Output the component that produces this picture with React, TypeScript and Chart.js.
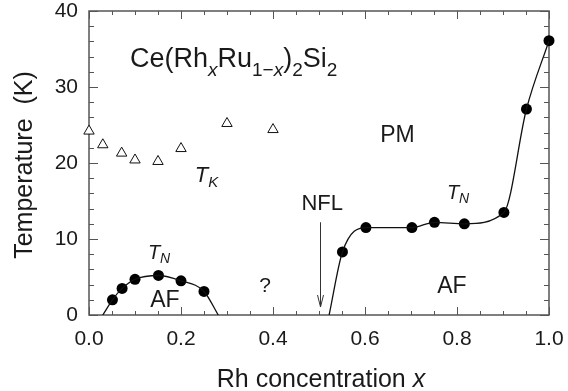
import React, { useEffect, useRef } from 'react';
import { Chart, registerables } from 'chart.js';

Chart.register(...registerables);

// ---- data ----
const TK_X = [0.0, 0.03, 0.071, 0.1, 0.15, 0.2, 0.3, 0.4];
const TK_Y = [24.2, 22.4, 21.3, 20.4, 20.2, 21.9, 25.2, 24.4];

const TN_LOW_X = [0.051, 0.072, 0.1, 0.151, 0.2, 0.25];
const TN_LOW_Y = [2.0, 3.5, 4.7, 5.2, 4.5, 3.1];

const TN_HIGH_X = [0.551, 0.602, 0.702, 0.751, 0.816, 0.902, 0.951, 1.0];
const TN_HIGH_Y = [8.3, 11.5, 11.5, 12.2, 12.0, 13.5, 27.1, 36.1];

const DOME_X = [0.03, 0.051, 0.072, 0.1, 0.151, 0.2, 0.25, 0.281];
const DOME_Y = [0, 2.0, 3.5, 4.7, 5.2, 4.5, 3.1, 0];

const RISE_X = [0.522, 0.551, 0.602, 0.702, 0.751, 0.816, 0.902, 0.951, 1.0];
const RISE_Y = [0, 8.3, 11.5, 11.5, 12.2, 12.0, 13.5, 27.1, 36.1];

const X_TICKS = [0, 0.2, 0.4, 0.6, 0.8, 1.0];
const Y_TICKS = [0, 10, 20, 30, 40];

const X_TITLE = 'Rh concentration ';
const X_TITLE_VAR = 'x';
const Y_TITLE = 'Temperature  (K)';

const ARROW_X = 0.502;
const ARROW_FROM = 12.2;
const ARROW_TO = 1.05;

type Seg = { t: string; sub?: boolean; it?: boolean };
type Label = { segs: Seg[]; x: number; y: number; size: number; sub: number; shift: number; align: 'left' | 'center' };

const LABELS: Label[] = [
  {
    segs: [
      { t: 'Ce(Rh' }, { t: 'x', sub: true, it: true }, { t: 'Ru' }, { t: '1−', sub: true },
      { t: 'x', sub: true, it: true }, { t: ')' }, { t: '2', sub: true }, { t: 'Si' }, { t: '2', sub: true },
    ],
    x: 0.089, y: 32.6, size: 27, sub: 19, shift: 9, align: 'left',
  },
  { segs: [{ t: 'T', it: true }, { t: 'K', sub: true, it: true }], x: 0.23, y: 17.5, size: 22, sub: 15, shift: 5, align: 'left' },
  { segs: [{ t: 'T', it: true }, { t: 'N', sub: true, it: true }], x: 0.128, y: 7.4, size: 20, sub: 14, shift: 4, align: 'left' },
  { segs: [{ t: 'T', it: true }, { t: 'N', sub: true, it: true }], x: 0.778, y: 15.3, size: 20, sub: 14, shift: 4, align: 'left' },
  { segs: [{ t: 'AF' }], x: 0.133, y: 1.05, size: 23, sub: 0, shift: 0, align: 'left' },
  { segs: [{ t: '?' }], x: 0.383, y: 3.0, size: 21, sub: 0, shift: 0, align: 'center' },
  { segs: [{ t: 'NFL' }], x: 0.507, y: 13.8, size: 22, sub: 0, shift: 0, align: 'center' },
  { segs: [{ t: 'PM' }], x: 0.633, y: 22.8, size: 23, sub: 0, shift: 0, align: 'left' },
  { segs: [{ t: 'AF' }], x: 0.757, y: 2.9, size: 23, sub: 0, shift: 0, align: 'left' },
];

const FONT = '"Liberation Sans", Arial, Helvetica, sans-serif';
const TEXT = '#1a1a1a';
const AXIS = '#555555';

function pts(xs: number[], ys: number[]) {
  return xs.map((x, i) => ({ x, y: ys[i] }));
}

function drawRich(ctx: CanvasRenderingContext2D, segs: Seg[], x: number, y: number, size: number, subSize: number, shift: number, align: 'left' | 'center') {
  const font = (s: Seg) => `${s.it ? 'italic ' : ''}${s.sub ? subSize : size}px ${FONT}`;
  let w = 0;
  for (const s of segs) {
    ctx.font = font(s);
    w += ctx.measureText(s.t).width;
  }
  let cx = align === 'center' ? x - w / 2 : x;
  ctx.textAlign = 'left';
  ctx.textBaseline = 'alphabetic';
  for (const s of segs) {
    ctx.font = font(s);
    ctx.fillText(s.t, cx, s.sub ? y + shift : y);
    cx += ctx.measureText(s.t).width;
  }
}

const framePlugin = {
  id: 'frameAndNotes',
  beforeDatasetsDraw(chart: any) {
    const { ctx, chartArea: a, scales } = chart;
    const xs = scales.x;
    const ys = scales.y;
    ctx.save();
    ctx.strokeStyle = AXIS;
    ctx.lineWidth = 1;
    const seg = (x1: number, y1: number, x2: number, y2: number) => {
      ctx.beginPath();
      ctx.moveTo(x1, y1);
      ctx.lineTo(x2, y2);
      ctx.stroke();
    };
    for (let i = 0; i <= 20; i++) {
      const px = Math.round(xs.getPixelForValue(i * 0.05)) + 0.5;
      const L = i % 4 === 0 ? 8 : 4;
      seg(px, a.bottom, px, a.bottom - L);
      seg(px, a.top, px, a.top + L);
    }
    for (let i = 0; i <= 20; i++) {
      const py = Math.round(ys.getPixelForValue(i * 2)) + 0.5;
      const L = i % 5 === 0 ? 9 : 5;
      seg(a.left, py, a.left + L, py);
      seg(a.right, py, a.right - L, py);
    }
    ctx.lineWidth = 1.5;
    ctx.strokeRect(a.left, a.top, a.right - a.left, a.bottom - a.top);
    ctx.restore();
  },
  afterDraw(chart: any) {
    const { ctx, chartArea: a, scales } = chart;
    const xs = scales.x;
    const ys = scales.y;
    ctx.save();
    ctx.fillStyle = TEXT;
    for (const l of LABELS) {
      drawRich(ctx, l.segs, xs.getPixelForValue(l.x), ys.getPixelForValue(l.y), l.size, l.sub, l.shift, l.align);
    }
    // arrow
    const ax = Math.round(xs.getPixelForValue(ARROW_X)) + 0.5;
    const y1 = ys.getPixelForValue(ARROW_FROM);
    const y2 = ys.getPixelForValue(ARROW_TO);
    ctx.strokeStyle = '#333';
    ctx.lineWidth = 1;
    ctx.beginPath();
    ctx.moveTo(ax, y1);
    ctx.lineTo(ax, y2);
    ctx.moveTo(ax - 3, y2 - 12);
    ctx.lineTo(ax, y2);
    ctx.lineTo(ax + 3, y2 - 12);
    ctx.stroke();
    // axis titles
    drawRich(ctx, [{ t: X_TITLE }, { t: X_TITLE_VAR, it: true }], (a.left + a.right) / 2 + 2, a.bottom + 72, 25, 0, 0, 'center');
    ctx.translate(32, (a.top + a.bottom) / 2 + 2);
    ctx.rotate(-Math.PI / 2);
    ctx.font = `25px ${FONT}`;
    ctx.textAlign = 'center';
    ctx.textBaseline = 'alphabetic';
    ctx.fillText(Y_TITLE, 0, 0);
    ctx.restore();
  },
};

export default function App() {
  const ref = useRef<HTMLCanvasElement | null>(null);
  useEffect(() => {
    if (!ref.current) return;
    const chart = new Chart(ref.current, {
      type: 'scatter',
      data: {
        datasets: [
          {
            data: pts(DOME_X, DOME_Y), showLine: true, borderColor: '#111', borderWidth: 1.3,
            pointRadius: 0, cubicInterpolationMode: 'monotone', fill: false,
          } as any,
          {
            data: pts(RISE_X, RISE_Y), showLine: true, borderColor: '#111', borderWidth: 1.3,
            pointRadius: 0, cubicInterpolationMode: 'monotone', fill: false,
          } as any,
          {
            data: pts(TN_LOW_X, TN_LOW_Y), pointRadius: 5.5, backgroundColor: '#000', borderColor: '#000',
            borderWidth: 0, clip: false,
          } as any,
          {
            data: pts(TN_HIGH_X, TN_HIGH_Y), pointRadius: 5.5, backgroundColor: '#000', borderColor: '#000',
            borderWidth: 0, clip: false,
          } as any,
          {
            data: pts(TK_X, TK_Y), pointStyle: 'triangle', pointRadius: 6, backgroundColor: '#fff',
            borderColor: '#111', borderWidth: 1, clip: false,
          } as any,
        ],
      },
      options: {
        animation: false,
        responsive: true,
        maintainAspectRatio: false,
        events: [],
        layout: { padding: { left: 0, right: 19, top: 11, bottom: 0 } },
        plugins: { legend: { display: false }, tooltip: { enabled: false } },
        scales: {
          x: {
            type: 'linear', min: 0, max: 1,
            grid: { display: false, drawTicks: false },
            border: { display: false },
            ticks: {
              padding: 12, color: TEXT, font: { size: 21, family: FONT },
              callback: (v: any) => Number(v).toFixed(1),
            },
            afterBuildTicks: (s: any) => { s.ticks = X_TICKS.map((v) => ({ value: v })); },
            afterFit: (s: any) => { s.height = 76; s.paddingLeft = 0; s.paddingRight = 0; },
          },
          y: {
            type: 'linear', min: 0, max: 40,
            grid: { display: false, drawTicks: false },
            border: { display: false },
            ticks: {
              padding: 11, color: TEXT, font: { size: 21, family: FONT },
              callback: (v: any) => String(v),
            },
            afterBuildTicks: (s: any) => { s.ticks = Y_TICKS.map((v) => ({ value: v })); },
            afterFit: (s: any) => { s.width = 89; s.paddingTop = 0; s.paddingBottom = 0; },
          },
        },
      } as any,
      plugins: [framePlugin],
    });
    return () => chart.destroy();
  }, []);
  return (
    <div style={{ position: 'fixed', left: 0, top: 0, width: 568, height: 391, background: '#fff' }}>
      <canvas ref={ref} />
    </div>
  );
}
